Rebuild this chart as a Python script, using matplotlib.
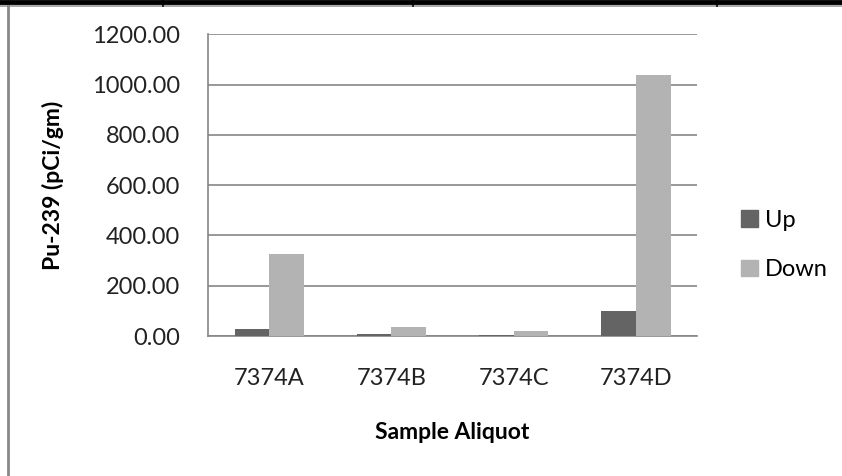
import matplotlib.pyplot as plt
import numpy as np
from matplotlib.lines import Line2D
from matplotlib.patches import Patch

# === Data ===
samples = ["7374A", "7374B", "7374C", "7374D"]
up = [27, 7, 5, 101]
down = [326, 36, 22, 1040]
series_names = ["Up", "Down"]
yticks = [0, 200, 400, 600, 800, 1000, 1200]

c_up = "#646464"
c_down = "#b3b3b3"
grid_c = "#868686"

plt.rcParams['font.family'] = ['Lato', 'DejaVu Sans']

fig = plt.figure(figsize=(8.42, 4.76), dpi=100)
ax = fig.add_axes([0.247, 0.294, 0.581, 0.634])

x = np.arange(len(samples))
w = 0.283
ax.bar(x - w / 2, up, w, color=c_up, label=series_names[0], zorder=3)
ax.bar(x + w / 2, down, w, color=c_down, label=series_names[1], zorder=3)

ax.set_xlim(-0.5, len(samples) - 0.5)
ax.set_ylim(0, 1200)
ax.set_yticks(yticks)
ax.set_yticklabels([f"{v:.2f}" for v in yticks])
ax.set_xticks(x)
ax.set_xticklabels(samples)
ax.tick_params(axis='both', length=0, labelsize=17, colors="#222222")
ax.tick_params(axis='y', pad=20)
ax.tick_params(axis='x', pad=23)
ax.yaxis.grid(True, color=grid_c, linewidth=1.2, zorder=0)
for s in ["top", "right"]:
    ax.spines[s].set_visible(False)
for s in ["left", "bottom"]:
    ax.spines[s].set_color(grid_c)
    ax.spines[s].set_linewidth(1.2)

ax.set_ylabel("Pu-239 (pCi/gm)", fontsize=16.5, fontweight="bold", labelpad=20)
ax.set_xlabel("Sample Aliquot", fontsize=16.5, fontweight="bold", labelpad=24)

handles = [Patch(color=c_up), Patch(color=c_down)]
fig.legend(handles, series_names, loc="center left", bbox_to_anchor=(0.855, 0.485),
           frameon=False, fontsize=17, handlelength=0.7, handleheight=0.7,
           handletextpad=0.3, labelspacing=1.2)

# frame pieces from the surrounding document
fig.add_artist(Line2D([0, 1], [0.9958, 0.9958], transform=fig.transFigure, color="black", linewidth=3.5))
fig.add_artist(Line2D([0, 1], [0.9875, 0.9875], transform=fig.transFigure, color="#999999", linewidth=1.2))
fig.add_artist(Line2D([0.0095, 0.0095], [0, 0.988], transform=fig.transFigure, color="#888888", linewidth=2))
for xv in [0.1936, 0.4905, 0.8515]:
    fig.add_artist(Line2D([xv, xv], [0.988, 1], transform=fig.transFigure, color="black", linewidth=1.2))

fig.savefig("out.png", dpi=100)
